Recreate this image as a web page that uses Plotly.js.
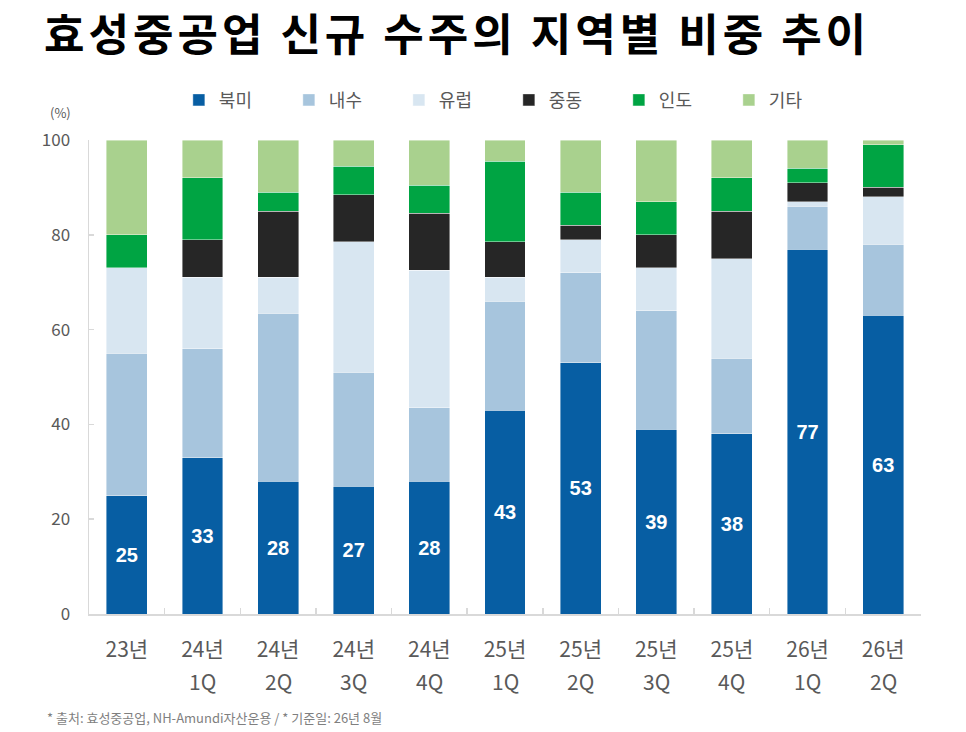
<!DOCTYPE html>
<html>
<head>
<meta charset="utf-8">
<script src="https://cdn.plot.ly/plotly-3.0.1.min.js"></script>
<style>
  html, body { margin: 0; padding: 0; background: #ffffff; }
  #chart { width: 966px; height: 732px; }
  g.annotation[data-index="0"] text.annotation-text { letter-spacing: 4px; }
</style>
</head>
<body>
<div id="chart"></div>
<script>
// ---- data ----
const categories = ["23년", "24년 1Q", "24년 2Q", "24년 3Q", "24년 4Q", "25년 1Q", "25년 2Q", "25년 3Q", "25년 4Q", "26년 1Q", "26년 2Q"];
const yearLabels = ["23년", "24년", "24년", "24년", "24년", "25년", "25년", "25년", "25년", "26년", "26년"];
const quarterLabels = ["", "1Q", "2Q", "3Q", "4Q", "1Q", "2Q", "3Q", "4Q", "1Q", "2Q"];

const northAmerica = [25, 33, 28, 27, 28, 43, 53, 39, 38, 77, 63];
const domestic     = [30, 23, 35.5, 24, 15.5, 23, 19, 25, 16, 9, 15];
const europe       = [18, 15, 7.5, 27.5, 29, 5, 7, 9, 21, 1, 10];
const middleEast   = [0, 8, 14, 10, 12, 7.5, 3, 7, 10, 4, 2];
const india        = [7, 13, 4, 6, 6, 17, 7, 7, 7, 3, 9];
const others       = [20, 8, 11, 5.5, 9.5, 4.5, 11, 13, 8, 6, 1];

const seriesNames = ["북미", "내수", "유럽", "중동", "인도", "기타"];
const seriesValues = [northAmerica, domestic, europe, middleEast, india, others];
const seriesColors = ["#075EA3", "#A7C5DD", "#D8E6F1", "#262626", "#00A443", "#A9D18E"];

const titleText = "효성중공업 신규 수주의 지역별 비중 추이";
const footnoteText = "* 출처: 효성중공업, NH-Amundi자산운용 / * 기준일: 26년 8월";

const KR = "'Noto Sans CJK KR', 'Noto Sans', sans-serif";

const traces = seriesNames.map((name, i) => {
  const t = {
    type: "bar",
    name: name,
    x: categories,
    y: seriesValues[i],
    marker: { color: seriesColors[i], line: { color: "rgba(255,255,255,0.7)", width: 0.6 } },
    width: 0.54,
    hoverinfo: "name+y"
  };
  if (i === 0) {
    t.text = seriesValues[i].map(v => String(v));
    t.textposition = "inside";
    t.insidetextanchor = "middle";
    t.textangle = 0;
    t.textfont = { color: "#ffffff", size: 20, family: "'Liberation Sans', Arial, sans-serif", weight: 700 };
  } else {
    t.textposition = "none";
  }
  return t;
});

const annotations = [
  { text: titleText, xref: "paper", yref: "paper", x: -0.004, y: 1.228, xanchor: "left", yanchor: "middle",
    showarrow: false, font: { family: KR, size: 44, color: "#000000", weight: 700 } },
  { text: "(%)", xref: "paper", yref: "paper", x: -0.034, y: 1.057, xanchor: "center", yanchor: "middle",
    showarrow: false, font: { family: KR, size: 13, color: "#595959" } },
  { text: footnoteText, xref: "paper", yref: "paper", x: -0.053, y: -0.219, xanchor: "left", yanchor: "middle",
    showarrow: false, font: { family: KR, size: 13, color: "#7f7f7f" } }
];
categories.forEach((c, i) => {
  if (quarterLabels[i]) {
    annotations.push({ text: quarterLabels[i], x: c, xref: "x", yref: "paper", y: -0.142, yanchor: "middle",
      showarrow: false, font: { family: KR, size: 21, color: "#595959" } });
  }
});

const layout = {
  width: 966, height: 732,
  margin: { l: 89, r: 45, t: 140, b: 118 },
  paper_bgcolor: "#ffffff", plot_bgcolor: "#ffffff",
  barmode: "stack",
  showlegend: true,
  legend: {
    orientation: "h", x: 0.108, xanchor: "left", y: 1.084, yanchor: "middle",
    font: { family: KR, size: 18, color: "#595959" },
    traceorder: "normal", itemclick: false, itemdoubleclick: false,
    entrywidth: 65, entrywidthmode: "pixels"
  },
  xaxis: {
    type: "category",
    tickvals: categories, ticktext: yearLabels,
    tickfont: { family: KR, size: 21, color: "#595959" },
    showline: true, linecolor: "#D9D9D9", linewidth: 1.5,
    ticks: "inside", tickson: "boundaries", ticklen: 6, tickcolor: "#D9D9D9", tickwidth: 1.5,
    ticklabelstandoff: 16,
    showgrid: false, zeroline: false, fixedrange: true
  },
  yaxis: {
    range: [0, 100], dtick: 20, tick0: 0,
    tickfont: { family: KR, size: 17, color: "#595959" },
    showline: true, linecolor: "#D9D9D9", linewidth: 1.5,
    ticks: "inside", ticklen: 5, tickcolor: "#D9D9D9", tickwidth: 1.5,
    ticklabelstandoff: 14,
    showgrid: false, zeroline: false, fixedrange: true
  },
  annotations: annotations,
  font: { family: KR }
};

Plotly.newPlot("chart", traces, layout, { displayModeBar: false, staticPlot: true });
</script>
</body>
</html>
